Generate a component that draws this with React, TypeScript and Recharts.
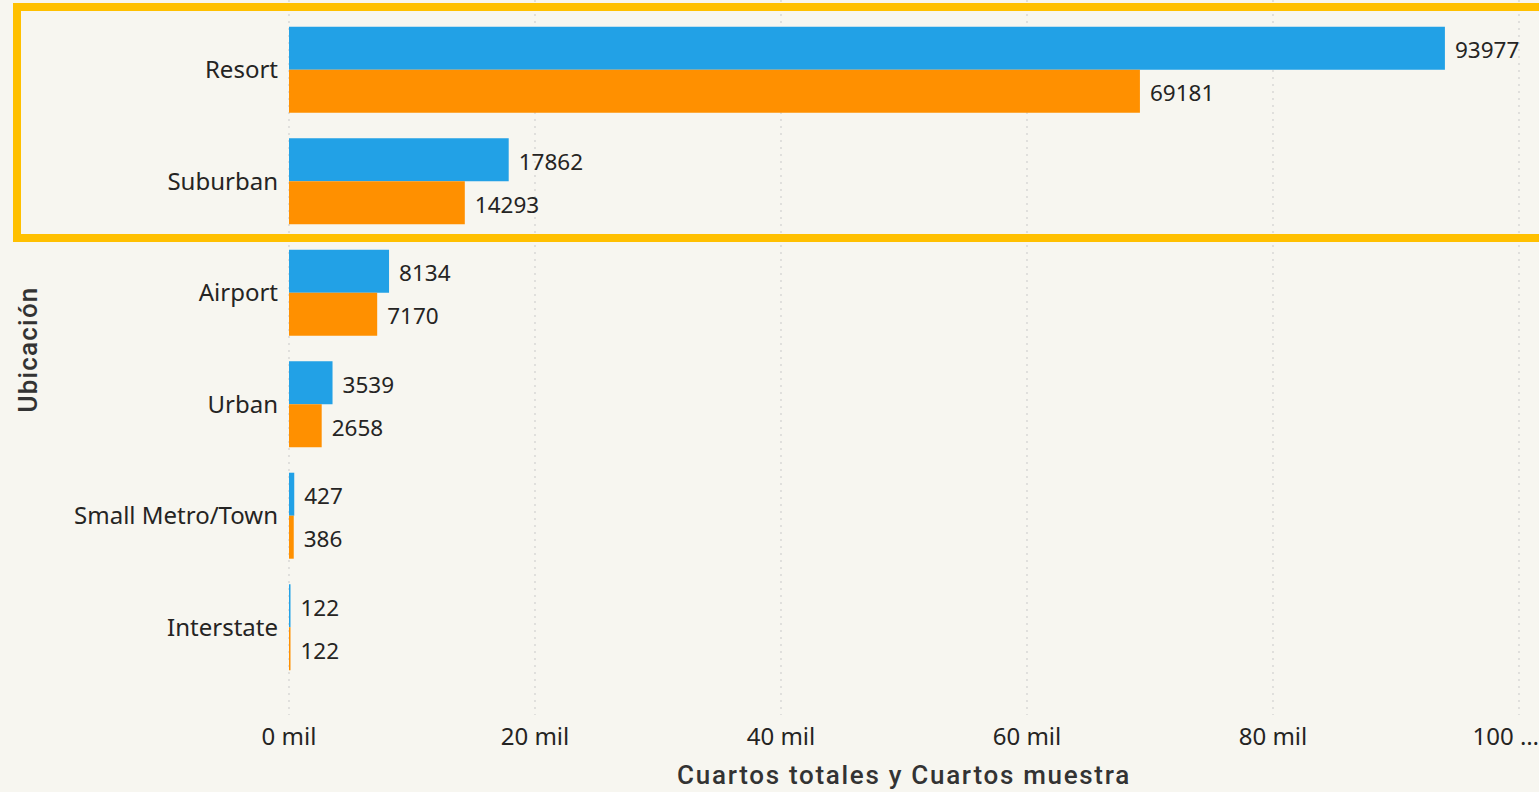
import React from 'react';
import { BarChart, Bar, XAxis, YAxis, CartesianGrid, LabelList } from 'recharts';

const categories = ['Resort', 'Suburban', 'Airport', 'Urban', 'Small Metro/Town', 'Interstate'];
const cuartosTotales = [93977, 17862, 8134, 3539, 427, 122];
const cuartosMuestra = [69181, 14293, 7170, 2658, 386, 122];
const xTicks = [0, 20000, 40000, 60000, 80000, 100000];

const data = categories.map((ubicacion, i) => ({
  ubicacion,
  totales: cuartosTotales[i],
  muestra: cuartosMuestra[i],
}));

const BG = '#f7f6f0';
const FONT = '"Noto Sans", "Open Sans", sans-serif';
const TITLE_FONT = 'Roboto, sans-serif';
const TEXT = '#252423';

const fmtTick = (v: number) => (v >= 100000 ? `${v / 1000} …` : `${v / 1000} mil`);

const labelStyle = { fontSize: 22.5, fill: TEXT, fontFamily: FONT };

// titulo del eje Y, girado
const YTitle = (props: any) => {
  const vb = props.viewBox || { y: 0, height: 0 };
  const cy = vb.y + vb.height / 2 - 8;
  return (
    <text
      x={28}
      y={cy}
      transform={`rotate(-90, 28, ${cy})`}
      textAnchor="middle"
      dominantBaseline="central"
      style={{ fontSize: 26, fill: '#333', fontFamily: TITLE_FONT, fontWeight: 500, letterSpacing: 1.2 }}
    >
      Ubicación
    </text>
  );
};

const App: React.FC = () => {
  return (
    <div style={{ position: 'absolute', left: 0, top: 0, width: 1539, height: 792, background: BG, overflow: 'hidden' }}>
      <BarChart
        width={1539}
        height={792}
        data={data}
        layout="vertical"
        margin={{ top: 0, right: 20, bottom: 30, left: 0 }}
        barCategoryGap="11.4%"
        barGap={0}
      >
        <CartesianGrid horizontal={false} stroke="#c9c9c9" strokeDasharray="2 5" />
        <XAxis
          type="number"
          domain={[0, 100000]}
          ticks={xTicks}
          tickFormatter={fmtTick}
          axisLine={false}
          tickLine={false}
          tick={{ fontSize: 24, fill: TEXT, fontFamily: FONT }}
          tickMargin={7}
          height={47}
          label={{
            value: 'Cuartos totales y Cuartos muestra',
            position: 'insideBottom',
            offset: -22,
            style: { fontSize: 26, fill: '#333', fontFamily: TITLE_FONT, fontWeight: 500, letterSpacing: 1.7 },
          }}
        />
        <YAxis
          type="category"
          dataKey="ubicacion"
          width={289}
          axisLine={false}
          tickLine={false}
          padding={{ top: 14, bottom: 32 }}
          tick={{ fontSize: 24, fill: TEXT, fontFamily: FONT }}
          tickMargin={5}
          label={<YTitle />}
        />
        <Bar dataKey="totales" fill="#22a1e6" isAnimationActive={false}>
          <LabelList dataKey="totales" position="right" offset={10} dy={2} style={labelStyle} />
        </Bar>
        <Bar dataKey="muestra" fill="#ff9000" isAnimationActive={false}>
          <LabelList dataKey="muestra" position="right" offset={10} dy={2} style={labelStyle} />
        </Bar>
      </BarChart>
      {/* resaltado de Resort y Suburban */}
      <div
        style={{
          position: 'absolute',
          left: 13,
          top: 3,
          width: 1560,
          height: 239,
          border: '8px solid #ffc000',
          boxSizing: 'border-box',
          pointerEvents: 'none',
        }}
      />
    </div>
  );
};

export default App;
